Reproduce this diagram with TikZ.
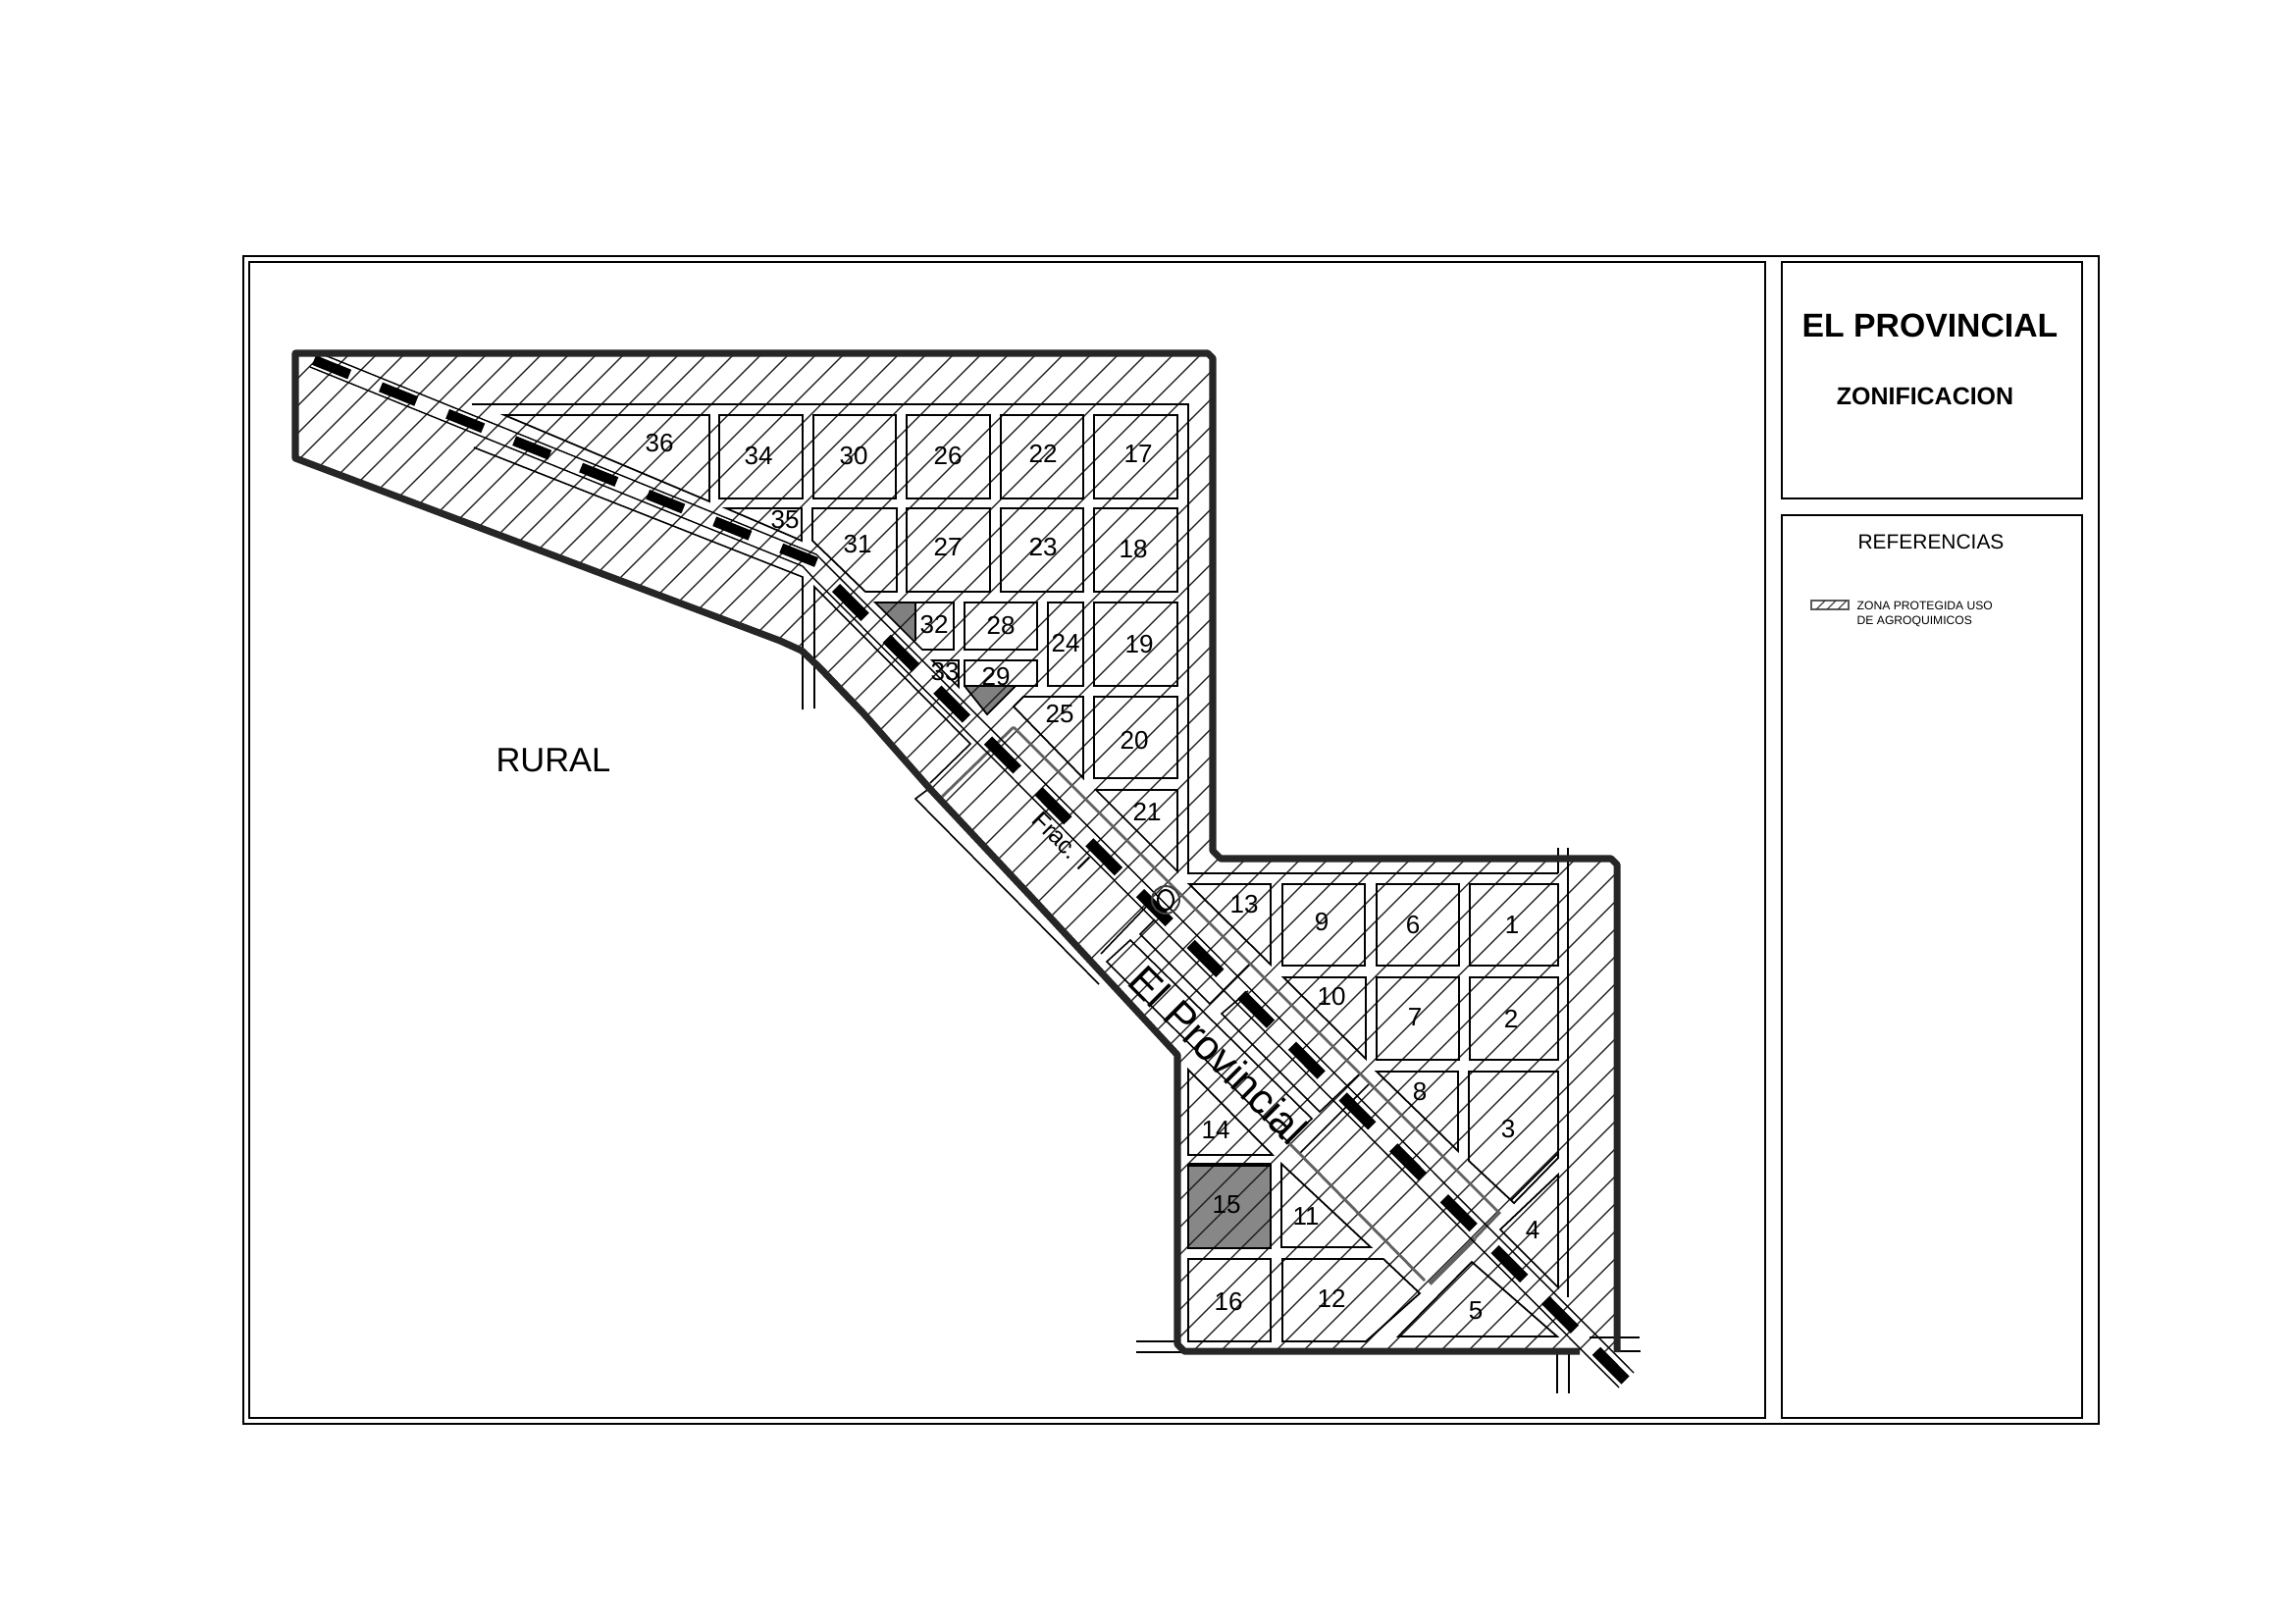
\documentclass[tikz,border=0pt]{standalone}
\usepackage{fontspec}
\setmainfont{Liberation Sans}
\tikzset{
  frameline/.style={draw=black,line width=0.5pt},
  lot/.style={draw=black,line width=0.5pt,line join=miter},
  streetline/.style={draw=black,line width=0.45pt},
  ditherline/.style={draw=black!62,line width=0.8pt},
  hatchline/.style={draw=black!90,line width=0.33pt},
  railline/.style={draw=black,line width=0.4pt},
  zoneline/.style={draw=black!85,line width=2pt},
  lotnum/.style={inner sep=0pt,font=\fontsize{7.4}{8}\selectfont},
  graypatch/.style={fill=black!50,draw=none}
}
\newcommand{\zonepath}{(1610,1377) -- (1207,1377) -- (1200,1370) -- (1200,1075) -- (1050,913) -- (947,803) -- (880,727) -- (835,680) -- (817,663) -- (795,653) -- (301,467) -- (301,360) -- (1231,360) -- (1236,365) -- (1236,867) -- (1244,875) -- (1642,875) -- (1648,881) -- (1648,1378)}
\begin{document}
\begin{tikzpicture}[x=0.01cm,y=-0.01cm]
\useasboundingbox (0,0) rectangle (2339,1654);
% frames
\draw[frameline] (248,261) rectangle (2139,1451);
\draw[frameline] (254,267) rectangle (1799,1445);
\draw[frameline] (1816,267) rectangle (2122,508);
\draw[frameline] (1816,525) rectangle (2122,1445);
% gray fills
\fill[black!47] (1211,1187) rectangle (1295,1272);
\fill[graypatch] (892,614) -- (933,614) -- (933,655) -- cycle;
\fill[graypatch] (983,699) -- (1035,699) -- (1006,728) -- cycle;
% hatching
\begin{scope}
\clip (1648,1378) -- (1610,1378) -- (1207,1377) -- (1200,1370) -- (1200,1075) -- (1050,913) -- (947,803) -- (880,727) -- (835,680) -- (817,663) -- (795,653) -- (301,467) -- (301,360) -- (1231,360) -- (1236,365) -- (1236,867) -- (1244,875) -- (1642,875) -- (1648,881) -- cycle;
\foreach \k in {22,...,112}{
  \pgfmathsetmacro{\s}{17+28*\k}
  \draw[hatchline] ({\s-300},300) -- ({\s-1450},1450);
}
\end{scope}
% lots, rectangular
\foreach \xa/\xb/\ya/\yb in {1115/1200/423/508,1020/1104/423/508,924/1009/423/508,829/913/423/508,733/818/423/508,
  1115/1200/518/603,1020/1104/518/603,924/1009/518/603,
  1115/1200/614/699,1068/1104/614/699,983/1057/614/662,983/1057/673/699,1115/1200/710/793,
  1307/1391/901/984,1403/1487/901/984,1498/1588/901/984,1403/1487/996/1080,1498/1588/996/1080,
  1211/1295/1283/1367}{
  \draw[lot] (\xa,\ya) rectangle (\xb,\yb);
}
\draw[lot] (1211,1187) rectangle (1295,1272);
\draw[black,line width=0.9pt] (1211,1187) -- (1295,1187);
% lots, cut by the road
\draw[lot] (514,423) -- (723,423) -- (723,511) -- cycle;
\draw[lot] (740,518) -- (817,518) -- (817,551) -- cycle;
\draw[lot] (828,518) -- (914,518) -- (914,603) -- (882,603) -- (828,551) -- cycle;
\draw[lot] (892,614) -- (972,614) -- (972,662) -- (940,662) -- cycle;
\draw[lot] (933,614) -- (933,653);
\draw[lot] (950,673) -- (977,673) -- (977,700) -- cycle;
\draw[lot] (983,699) -- (1006,728) -- (1035,699);
\draw[lot] (1043,710) -- (1104,710) -- (1104,793) -- (1033,720) -- cycle;
\draw[lot] (1117,805) -- (1200,805) -- (1200,888) -- cycle;
\draw[lot] (1212,901) -- (1295,901) -- (1295,983) -- cycle;
\draw[lot] (1308,996) -- (1392,996) -- (1392,1079) -- cycle;
\draw[lot] (1403,1092) -- (1486,1092) -- (1486,1173) -- cycle;
\draw[lot] (1497,1092) -- (1588,1092) -- (1588,1180) -- (1543,1226) -- (1497,1183) -- cycle;
\draw[lot] (1540,1223) -- (1588,1175);
\draw[lot] (1588,1197) -- (1588,1312) -- (1529,1253) -- cycle;
\draw[lot] (1500,1286) -- (1587,1362) -- (1425,1362) -- cycle;
\draw[lot] (1307,1283) -- (1410,1283) -- (1447,1318) -- (1392,1367) -- (1307,1367) -- cycle;
\draw[lot] (1306,1186) -- (1397,1271) -- (1306,1271) -- cycle;
\draw[lot] (1211,1090) -- (1297,1177) -- (1211,1177) -- cycle;
% streets
\draw[streetline] (481,412) -- (1211,412) -- (1211,890) -- (1588,890);
\draw[streetline] (1588,864) -- (1588,890);
\draw[streetline] (1598,864) -- (1598,1322);
\draw[streetline] (1587,1378) -- (1587,1420);
\draw[streetline] (1599,1378) -- (1599,1420);
\draw[streetline] (1158,1367) -- (1200,1367);
\draw[streetline] (1158,1378) -- (1205,1378);
\draw[streetline] (1620,1363) -- (1671,1363);
\draw[streetline] (1650,1377) -- (1672,1377);
\draw[streetline] (483,456) -- (818,588) -- (818,723);
\draw[streetline] (830,722) -- (830,598) -- (989,758) -- (948,798);
\draw[streetline] (945,805) -- (933,814) -- (1120,1003);
\draw[streetline] (1122,972) -- (1170,922);
\draw[streetline] (1128,980) -- (1152,958) -- (1337,1140) -- (1312,1163) -- cycle;
\draw[streetline] (1177,937) -- (1162,952) -- (1233,1023) -- (1273,983);
\draw[streetline] (1272,1010) -- (1245,1033) -- (1345,1133) -- (1385,1095);
\draw[streetline] (1325,1175) -- (1395,1105);
\draw[ditherline] (1033,741) -- (960,812);
\draw[ditherline] (1033,741) -- (1528,1236) -- (1503,1262);
\draw[ditherline] (1312,1163) -- (1452,1305);
\draw[black!62,line width=1.3pt] (1457,1308) -- (1503,1262);
% railway
\draw[railline] (326,360) -- (832,565) -- (1665,1399);
\draw[railline] (316,374) -- (818,577) -- (828,588) -- (1650,1414);
\draw[black,line width=2.95pt,dash pattern=on 39*0.2845pt off 34.3*0.2845pt] (320,367) -- (832,573);
\draw[black,line width=3.3pt,dash pattern=on 42*0.2845pt off 31.16*0.2845pt] (852,599) -- (1657,1407);
% zone outline
\draw[zoneline,line join=round] \zonepath;
% circle mark
\draw[black!75,line width=0.55pt] (1188,917) circle (14);
\draw[black,line width=0.6pt] (1188,917) ellipse (8 and 10);
% lot numbers
\foreach \t/\x/\y in {36/672/452,34/773/465,30/870/465,26/966/465,22/1063/462,17/1160/463,
  35/800/530,31/874/555,27/966/557,23/1063/558,18/1155/560,
  32/952/637,28/1020/638,24/1086/655,19/1161/657,33/963/685,29/1015/690,
  25/1080/728,20/1156/755,21/1169/827,13/1268/922,9/1347/940,6/1440/943,1/1541/943,
  10/1357/1016,7/1442/1037,2/1540/1038,8/1447/1113,3/1537/1151,14/1239/1152,
  15/1250/1228,11/1331/1240,4/1562/1254,16/1252/1327,12/1357/1323,5/1504/1336}{
  \node[lotnum] (n\t) at (\x,\y) {\t};
}
\node[inner sep=0pt,font=\fontsize{9.8}{11}\selectfont] (rural) at (564,775) {RURAL};
\node[inner sep=0pt,rotate=-45,font=\fontsize{12.2}{13}\selectfont] (elprov) at (1242,1075) {El Provincial};
\node[inner sep=0pt,rotate=-45,font=\fontsize{7}{8}\selectfont] (frac) at (1082,857) {Frac. I};
% title block
\node[inner sep=0pt,font=\fontsize{9.6}{11}\selectfont\bfseries] (title) at (1967,332) {EL PROVINCIAL};
\node[inner sep=0pt,font=\fontsize{7.1}{8}\selectfont\bfseries] (subtitle) at (1962,404) {ZONIFICACION};
\node[inner sep=0pt,font=\fontsize{5.95}{7}\selectfont] (refs) at (1968,552) {REFERENCIAS};
% legend
\draw[black!65,line width=0.8pt] (1846,612) rectangle (1884,621);
\draw[black!80,line width=0.3pt] (1851,621) -- (1860,612) (1862,621) -- (1871,612) (1873,621) -- (1882,612);
\node[inner sep=0pt,anchor=west,font=\fontsize{3.45}{4}\selectfont] (leg1) at (1892,617) {ZONA PROTEGIDA USO};
\node[inner sep=0pt,anchor=west,font=\fontsize{3.45}{4}\selectfont] (leg2) at (1892,633) {DE AGROQUIMICOS};
\end{tikzpicture}
\end{document}
